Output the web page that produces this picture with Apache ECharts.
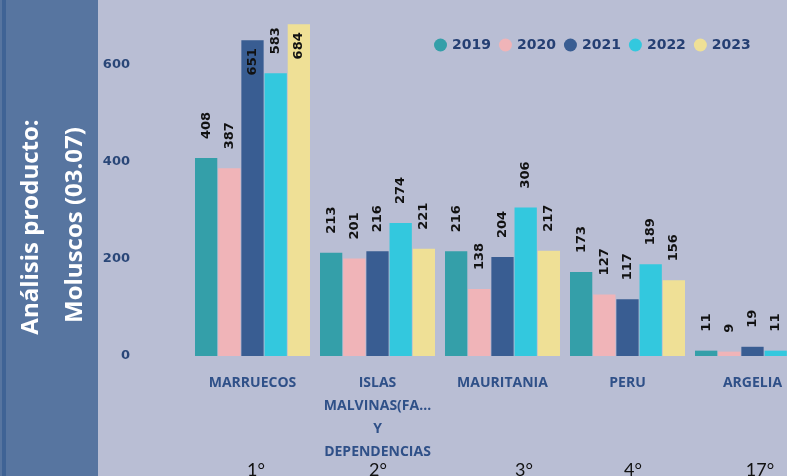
<!DOCTYPE html>
<html>
<head>
<meta charset="utf-8">
<script src="https://cdn.jsdelivr.net/npm/echarts@6/dist/echarts.min.js"></script>
<style>
  html, body { margin: 0; padding: 0; background: #b9bed4; overflow: hidden; }
  #chart { width: 815px; height: 476px; }
</style>
</head>
<body>
<div id="chart"></div>
<script>
// datos
var paises = ['MARRUECOS', 'ISLAS\nMALVINAS(FA...\nY\nDEPENDENCIAS', 'MAURITANIA', 'PERU', 'ARGELIA'];
var ranking = ['1°', '2°', '3°', '4°', '17°'];
var rankingX = [256, 378, 524, 633, 760]; // posicion del texto de ranking
var anios = ['2019', '2020', '2021', '2022', '2023'];
var v2019 = [408, 213, 216, 173, 11];
var v2020 = [387, 201, 138, 127, 9];
var v2021 = [651, 216, 204, 117, 19];
var v2022 = [583, 274, 306, 189, 11];
var v2023 = [684, 221, 217, 156, 11];
var colores = ['#349fa9', '#f0b4b8', '#395d92', '#33c8de', '#efe096'];

// el grafico es mas ancho que la ventana: la ultima barra queda cortada
var chart = echarts.init(document.getElementById('chart'));

// etiquetas que no caben arriba van dentro de la barra
function etiquetas(values) {
  return values.map(function (v) {
    if (v > 620) {
      return {
        value: v,
        label: { position: 'insideTop', align: 'right', distance: 8 }
      };
    }
    return v;
  });
}

var series = [v2019, v2020, v2021, v2022, v2023].map(function (values, i) {
  return {
    name: anios[i],
    type: 'bar',
    data: etiquetas(values),
    itemStyle: { color: colores[i] },
    barGap: '4%',
    barCategoryGap: '8%',
    label: {
      show: true,
      position: 'top',
      rotate: 90,
      align: 'left',
      verticalAlign: 'middle',
      distance: 19,
      color: '#111',
      fontFamily: 'DejaVu Sans',
      fontWeight: 'bold',
      fontSize: 13
    }
  };
});

var graficos = [
  { type: 'rect', left: 0, top: 0, shape: { width: 98, height: 476 }, style: { fill: '#5775a0' } },
  { type: 'rect', left: 2, top: 0, shape: { width: 4, height: 476 }, style: { fill: '#3f6395' } },
  {
    type: 'text', x: 31, y: 227, rotation: Math.PI / 2,
    style: { text: 'Análisis producto:', fill: '#fff', font: 'bold 24px "Open Sans"', align: 'center', verticalAlign: 'middle' }
  },
  {
    type: 'text', x: 75, y: 225, rotation: Math.PI / 2,
    style: { text: 'Moluscos (03.07)', fill: '#fff', font: 'bold 24px "Open Sans"', align: 'center', verticalAlign: 'middle' }
  }
];
ranking.forEach(function (r, i) {
  graficos.push({
    type: 'text', x: rankingX[i], y: 470,
    style: { text: r, fill: '#111', font: '18px Lato', align: 'center', verticalAlign: 'middle' }
  });
});

var option = {
  backgroundColor: '#b9bed4',
  animation: false,
  legend: {
    data: anios,
    left: 429,
    top: 33,
    icon: 'circle',
    itemWidth: 13,
    itemHeight: 13,
    itemGap: 8,
    textStyle: { color: '#253f73', fontFamily: 'DejaVu Sans', fontWeight: 'bold', fontSize: 14 }
  },
  grid: { left: 190, right: 0, top: 16.5, height: 339.5 },
  xAxis: {
    type: 'category',
    data: paises,
    axisLine: { show: false },
    axisTick: { show: false },
    axisLabel: {
      interval: 0,
      margin: 16,
      lineHeight: 23,
      color: '#2f5088',
      fontFamily: 'Open Sans',
      fontWeight: 'bold',
      fontSize: 14
    }
  },
  yAxis: {
    type: 'value',
    min: 0,
    max: 700,
    interval: 200,
    axisLine: { show: false },
    axisTick: { show: false },
    axisLabel: {
      margin: 60,
      showMaxLabel: false,
      color: '#2a4778',
      fontFamily: 'DejaVu Sans',
      fontWeight: 'bold',
      fontSize: 13
    },
    splitLine: { show: false }
  },
  graphic: graficos,
  series: series
};

chart.setOption(option);
</script>
</body>
</html>
